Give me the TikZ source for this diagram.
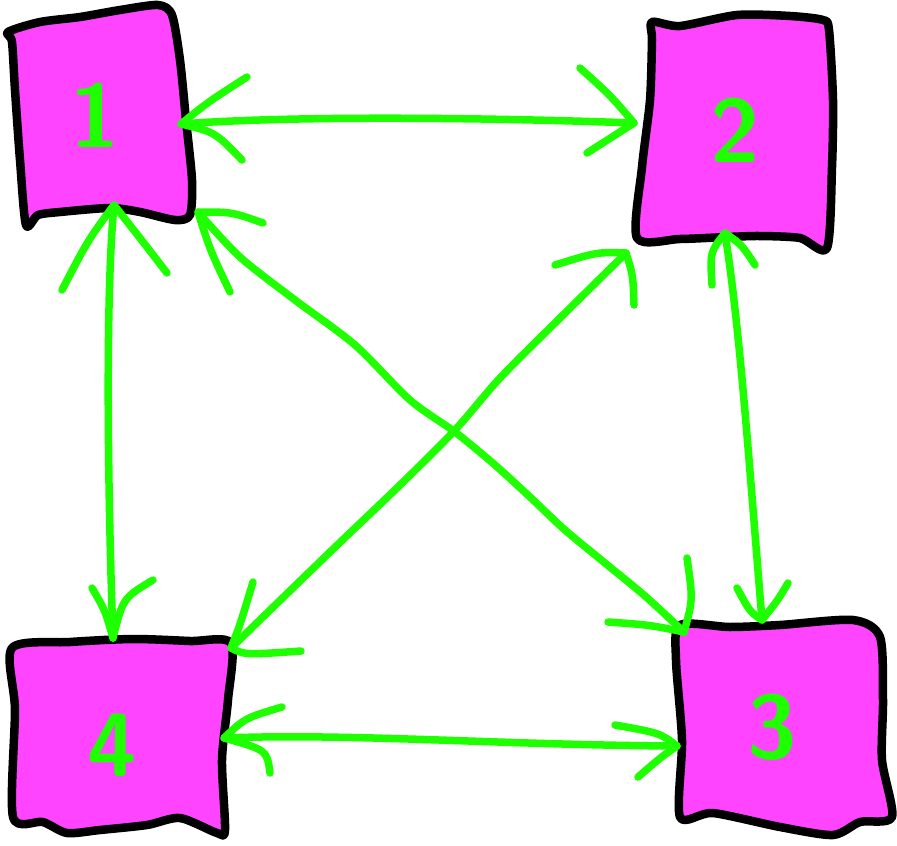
\documentclass[tikz,border=0pt]{standalone}
\definecolor{boxfill}{RGB}{255,68,255}
\definecolor{pen}{RGB}{30,255,0}
\begin{document}
\begin{tikzpicture}[x=1pt,y=-1pt,
  boxline/.style={draw=black,fill=boxfill,line width=8.5,line join=round},
  link/.style={draw=pen,line width=7.5,line cap=round,line join=round},
  digit/.style={text=pen,font=\sffamily\bfseries\fontsize{90}{90}\selectfont,inner sep=0}]
\useasboundingbox (0,0) rectangle (897,846);

% boxes
\draw[boxline] plot[smooth cycle, tension=0.45] coordinates {(8,32) (40,22) (80,17) (120,10) (158,5) (172,15) (180,60) (186,120) (192,180) (190,215) (175,220) (140,212) (110,208) (60,212) (38,215) (26,225) (20,160) (15,90) (12,42)};
\draw[boxline] plot[smooth cycle, tension=0.45] coordinates {(652,22) (680,26) (737,15) (790,16) (823,20) (829,30) (833,100) (832,167) (827,248) (800,238) (760,236) (727,237) (680,239) (637,238) (642,167) (650,100) (652,40)};
\draw[boxline] plot[smooth cycle, tension=0.45] coordinates {(680,625) (730,627) (780,625) (853,620) (880,637) (883,700) (882,760) (892,817) (860,822) (833,835) (780,827) (713,813) (680,817) (682,740) (676,660)};
\draw[boxline] plot[smooth cycle, tension=0.45] coordinates {(12,648) (70,642) (133,639) (190,641) (231,643) (228,700) (222,760) (225,830) (217,833) (180,818) (147,825) (100,830) (67,833) (43,822) (13,817) (15,710)};

% labels
\node[digit] (n1) at (95,115) {1};
\node[digit] (n2) at (735,130) {2};
\node[digit] (n3) at (772,727) {3};
\node[digit] (n4) at (112,745) {4};

% connector end points
\coordinate (p1r) at (181,124);
\coordinate (p2l) at (634,123);
\coordinate (p1b) at (114,205);
\coordinate (p4t) at (113,638);
\coordinate (p2b) at (725,233);
\coordinate (p3t) at (762,620);
\coordinate (p1c) at (198,212);
\coordinate (p3c) at (684,632);
\coordinate (p2c) at (626,253);
\coordinate (p4c) at (231,648);
\coordinate (p4r) at (224,738);
\coordinate (p3l) at (677,746);

% 1 <-> 2
\draw[link] (p1r) .. controls (300,115) and (500,118) .. (p2l);
\draw[link] (247,77) .. controls (208,102) .. (p1r) .. controls (215,132) .. (242,160);
\draw[link] (580,68) .. controls (610,95) .. (p2l) -- (587,153);

% 1 <-> 4
\draw[link] (p1b) .. controls (105,300) and (108,500) .. (p4t);
\draw[link] (62,290) .. controls (88,240) .. (p1b) .. controls (140,238) .. (167,273);
\draw[link] (92,588) .. controls (105,610) .. (p4t) .. controls (123,598) .. (153,580);

% 2 <-> 3
\draw[link] (p2b) .. controls (740,330) and (748,450) .. (p3t);
\draw[link] (712,285) .. controls (710,252) .. (p2b) .. controls (742,245) .. (755,265);
\draw[link] (737,588) .. controls (750,612) .. (p3t) .. controls (778,600) .. (788,583);

% 1 <-> 3
\draw[link] plot[smooth, tension=0.5] coordinates {(p1c) (240,257) (295,300) (355,345) (410,400) (455,432) (495,465) (530,497) (565,530) (605,563) (645,596) (p3c)};
\draw[link] (230,292) .. controls (210,250) .. (p1c) .. controls (232,212) .. (263,223);
\draw[link] (608,622) .. controls (650,625) .. (p3c);
\draw[link] (687,558) .. controls (693,600) .. (p3c);

% 2 <-> 4
\draw[link] plot[smooth, tension=0.5] coordinates {(p2c) (560,318) (500,378) (455,430) (400,485) (330,552) (p4c)};
\draw[link] (555,265) .. controls (597,252) .. (p2c) .. controls (633,275) .. (634,305);
\draw[link] (253,582) .. controls (240,625) .. (p4c) .. controls (245,655) .. (301,651);

% 3 <-> 4
\draw[link] (p4r) .. controls (350,733) and (500,745) .. (p3l);
\draw[link] (282,707) .. controls (245,718) .. (p4r) .. controls (267,750) .. (270,773);
\draw[link] (615,725) .. controls (660,733) .. (p3l) .. controls (660,758) .. (638,777);
\end{tikzpicture}
\end{document}
